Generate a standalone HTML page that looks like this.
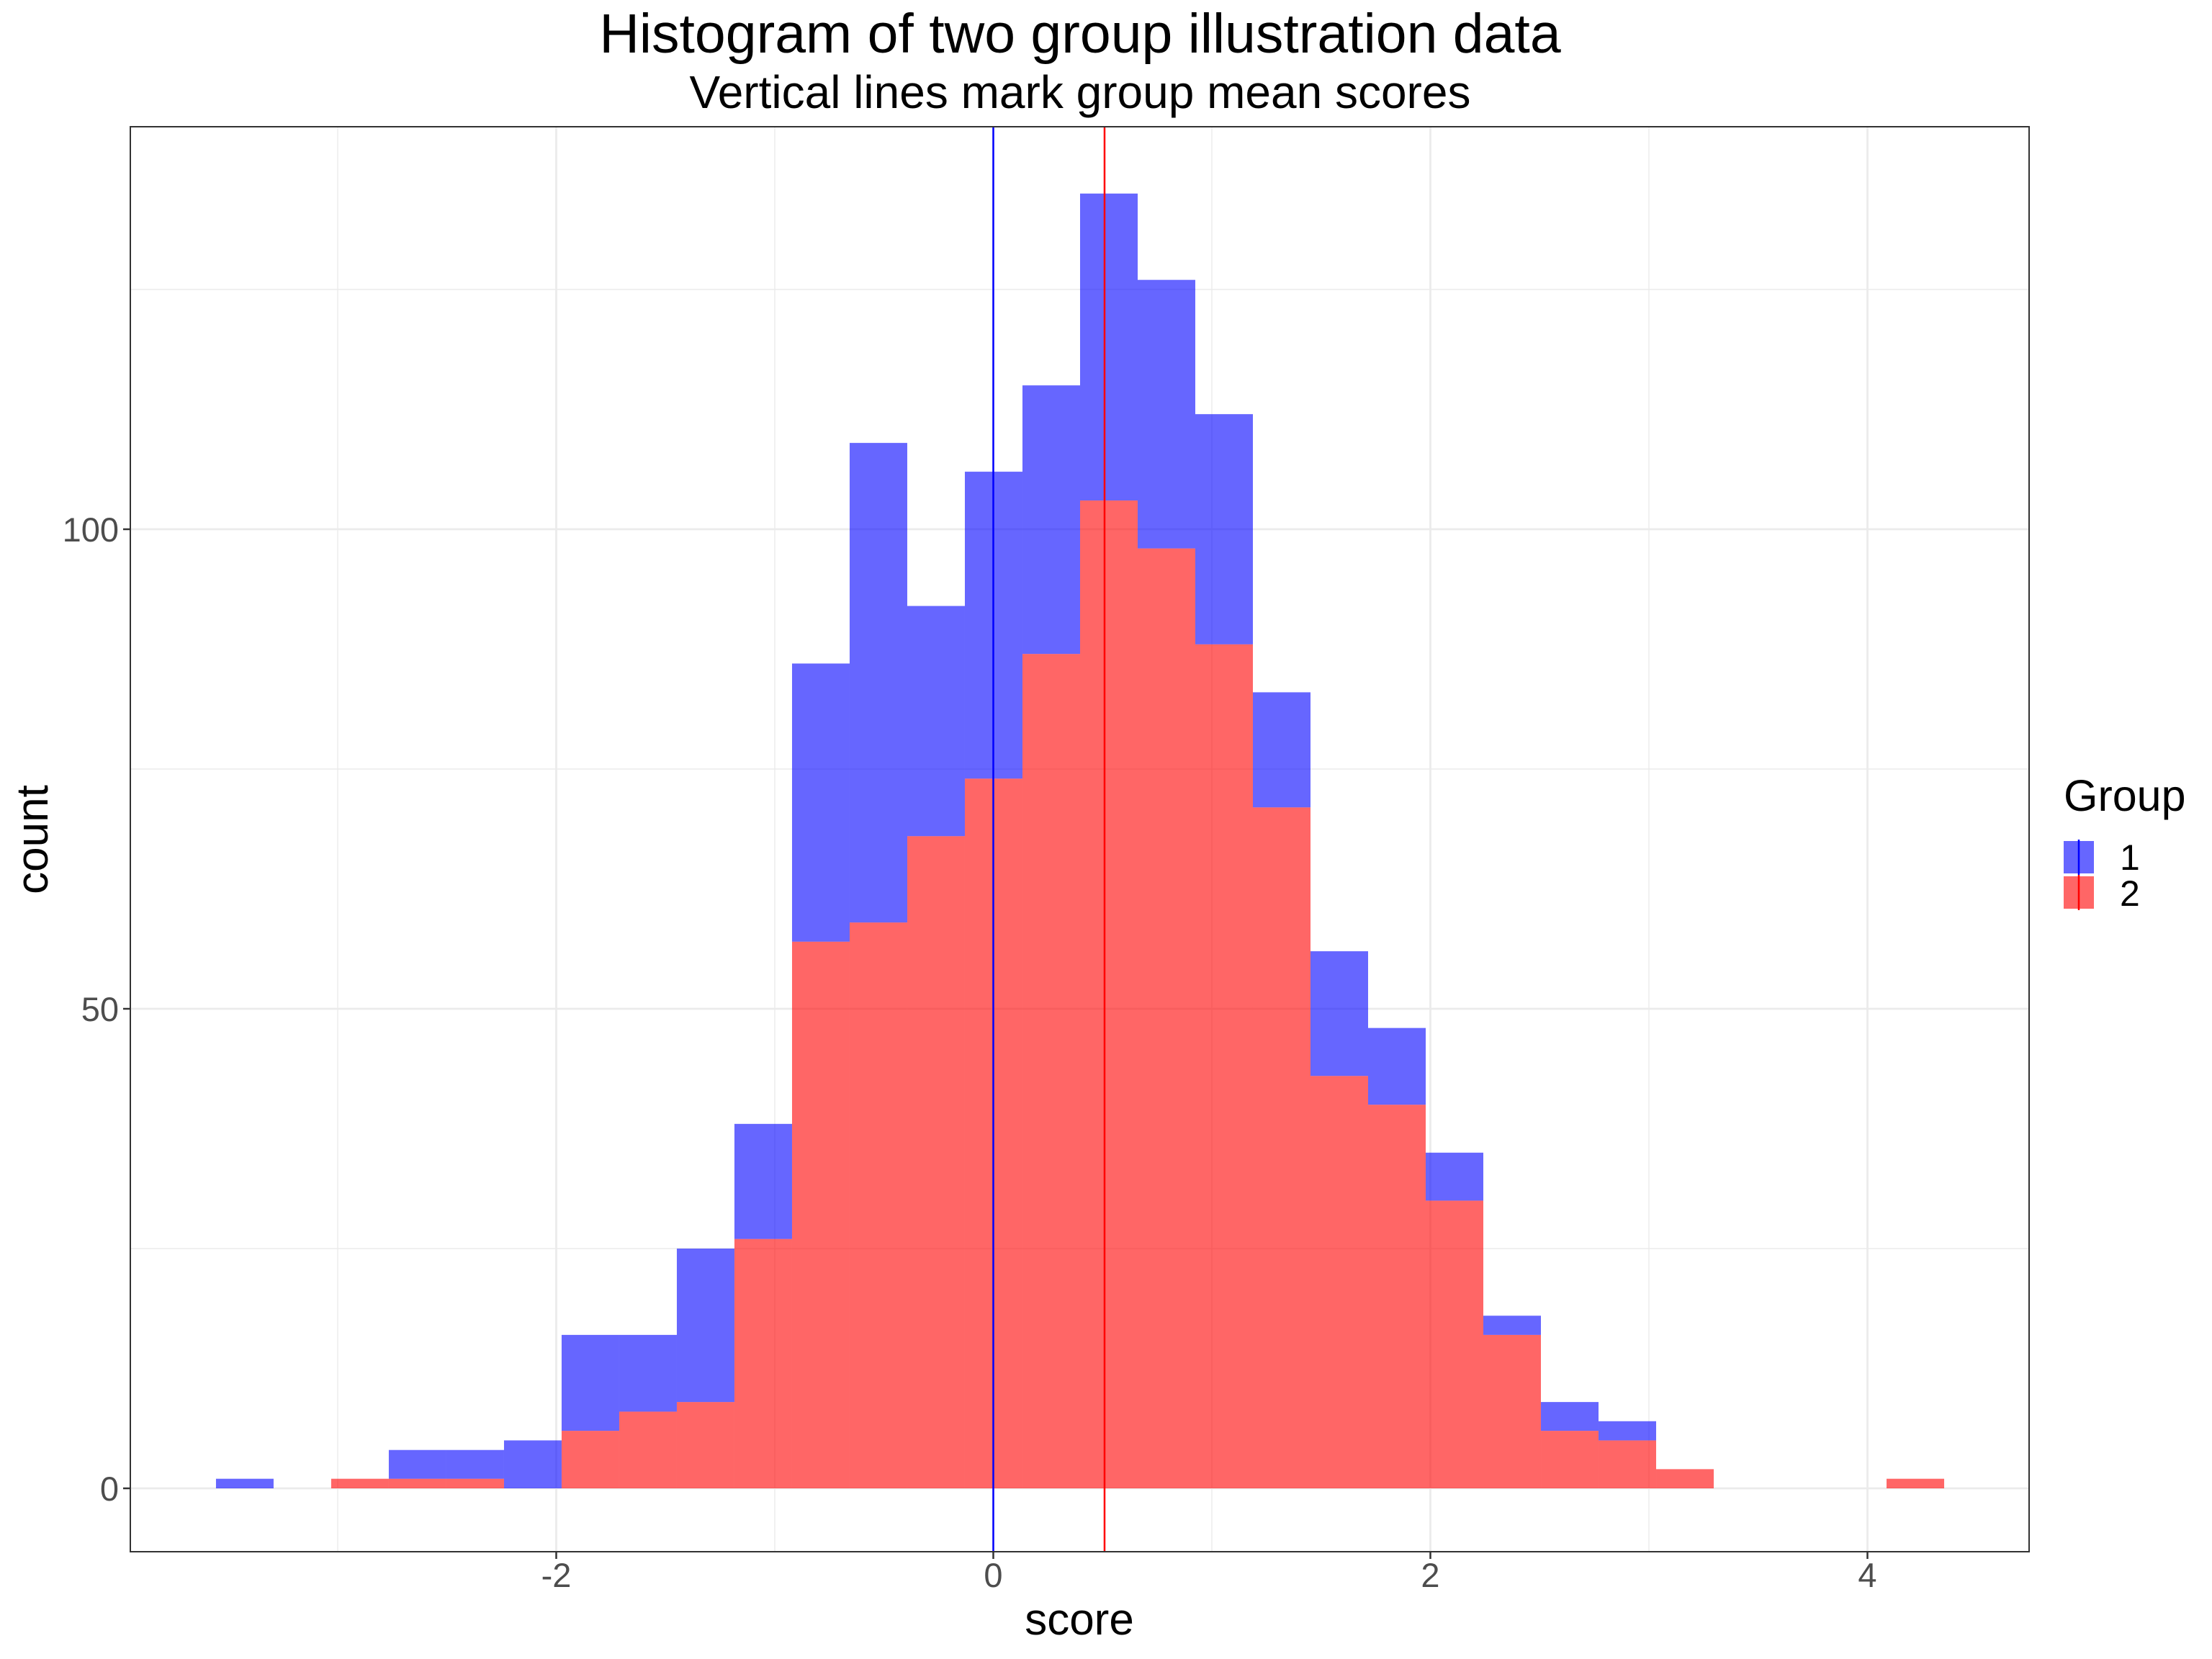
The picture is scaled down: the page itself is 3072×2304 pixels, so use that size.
<!DOCTYPE html>
<html><head><meta charset="utf-8"><style>
html,body{margin:0;padding:0;background:#fff}
svg{display:block;font-family:"Liberation Sans",Arial,sans-serif}
</style></head><body>
<svg id="chart" width="3072" height="2304" viewBox="0 0 3072 2304">
<rect x="0" y="0" width="3072" height="2304" fill="#fff"/>
<text x="1500" y="73" font-size="77" text-anchor="middle" fill="#000">Histogram of two group illustration data</text>
<text x="1500" y="150" font-size="64" text-anchor="middle" fill="#000">Vertical lines mark group mean scores</text>
<g id="grid"></g>
<g id="bars"></g>
<g id="means"></g>
<rect x="181" y="176" width="2637" height="1979" fill="none" stroke="#333" stroke-width="2"/>
<g id="axes"></g>
<text x="1499" y="2270" font-size="62" text-anchor="middle" fill="#000">score</text>
<text transform="translate(66,1166) rotate(-90)" font-size="62" text-anchor="middle" fill="#000">count</text>
<g>
<text x="2866" y="1126" font-size="61" fill="#000">Group</text>
<g>
<rect x="2866" y="1168" width="42" height="45" fill="#0000ff" fill-opacity="0.6"/>
<line x1="2887" y1="1166" x2="2887" y2="1215" stroke="#0000ff" stroke-width="2.5"/>
<text x="2944" y="1208" font-size="50" fill="#000">1</text>
</g>
<g>
<rect x="2866" y="1217" width="42" height="45" fill="#ff0000" fill-opacity="0.6"/>
<line x1="2887" y1="1215" x2="2887" y2="1264" stroke="#ff0000" stroke-width="2.5"/>
<text x="2944" y="1258" font-size="50" fill="#000">2</text>
</g>
</g>
</svg>
<script>
const binStart = -3.557;
const binWidth = 0.2636;
const group1Counts = [1,0,0,3,3,5,10,8,16,12,29,50,24,32,28,32,28,24,12,13,8,5,2,3,2,0,0,0,0,0];
const group2Counts = [0,0,1,1,1,0,6,8,9,26,57,59,68,74,87,103,98,88,71,43,40,30,16,6,5,2,0,0,0,1];
const groupMeans = [0.0, 0.509];
const xTicks = [-2,0,2,4];
const xMinor = [-3,-1,1,3];
const yTicks = [0,50,100];
const yMinor = [25,75,125];

const NS = "http://www.w3.org/2000/svg";
const PL = 181, PR = 2818, PT = 176, PB = 2155;
function xs(v){ return 1379.5 + v * 303.5; }
function ys(v){ return 2067 - v * 13.32; }
function mk(tag, attrs, parent){
  const e = document.createElementNS(NS, tag);
  for (const k in attrs) e.setAttribute(k, attrs[k]);
  parent.appendChild(e);
  return e;
}
const grid = document.getElementById('grid');
const bars = document.getElementById('bars');
const means = document.getElementById('means');
const axes = document.getElementById('axes');

yMinor.forEach(v => {
  const l = mk('line', {x1:PL, x2:PR, y1:ys(v), y2:ys(v), stroke:'#ebebeb', 'stroke-width':1.4}, grid);
  
  
});
xMinor.forEach(v => {
  const l = mk('line', {x1:xs(v), x2:xs(v), y1:PT, y2:PB, stroke:'#ebebeb', 'stroke-width':1.4}, grid);
  
  
});
yTicks.forEach(v => {
  const l = mk('line', {x1:PL, x2:PR, y1:ys(v), y2:ys(v), stroke:'#ebebeb', 'stroke-width':2.8}, grid);
  
  
  const t = mk('line', {x1:PL-10, x2:PL, y1:ys(v), y2:ys(v), stroke:'#333', 'stroke-width':2.5}, axes);
  
  
  const tx = mk('text', {x:PL-16, y:ys(v)+17, 'font-size':47, 'text-anchor':'end', fill:'#4d4d4d'}, axes);
  tx.textContent = v;
  
  
});
xTicks.forEach(v => {
  const l = mk('line', {x1:xs(v), x2:xs(v), y1:PT, y2:PB, stroke:'#ebebeb', 'stroke-width':2.8}, grid);
  
  
  const t = mk('line', {x1:xs(v), x2:xs(v), y1:PB, y2:PB+10, stroke:'#333', 'stroke-width':2.5}, axes);
  
  
  const tx = mk('text', {x:xs(v), y:2204, 'font-size':47, 'text-anchor':'middle', fill:'#4d4d4d'}, axes);
  tx.textContent = v;
  
  
});

group2Counts.forEach((c2, i) => {
  const c1 = group1Counts[i];
  const x0 = xs(binStart + i*binWidth), x1 = xs(binStart + (i+1)*binWidth);
  if (c2 > 0) {
    const r = mk('rect', {x:x0, y:ys(c2), width:x1-x0, height:ys(0)-ys(c2), fill:'#ff0000', 'fill-opacity':0.6}, bars);
    
    
  }
  if (c1 > 0) {
    const r = mk('rect', {x:x0, y:ys(c1+c2), width:x1-x0, height:ys(c2)-ys(c1+c2), fill:'#0000ff', 'fill-opacity':0.6}, bars);
    
    
  }
});
const meanColors = ['#0000ff', '#ff0000'];
groupMeans.forEach((m, i) => {
  const l = mk('line', {x1:xs(m), x2:xs(m), y1:PT, y2:PB, stroke:meanColors[i], 'stroke-width':2.5}, means);
  
  
});
</script>
</body></html>
